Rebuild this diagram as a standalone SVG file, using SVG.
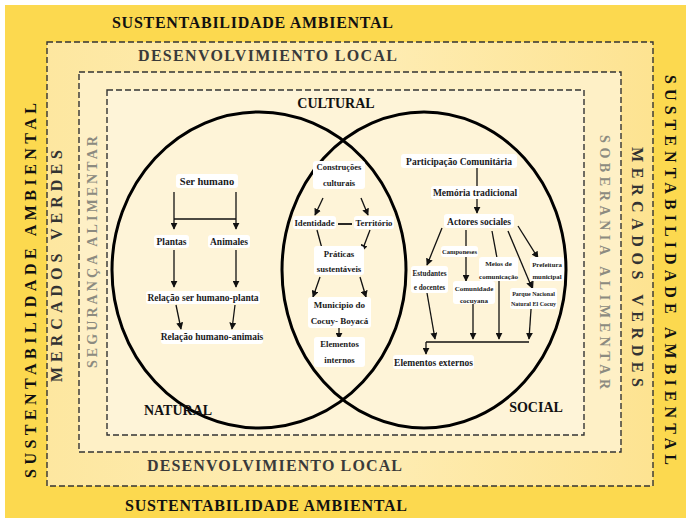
<svg xmlns="http://www.w3.org/2000/svg" width="686" height="518" viewBox="0 0 686 518">
<defs>
<linearGradient id="gOuter" x1="0" y1="0" x2="1" y2="0">
<stop offset="0" stop-color="#FDE7A0"/>
<stop offset="0.5" stop-color="#FEEDB6"/>
<stop offset="1" stop-color="#FDE391"/>
</linearGradient>
<marker id="ah" viewBox="0 0 10 10" refX="9" refY="5" markerWidth="7" markerHeight="7" markerUnits="userSpaceOnUse" orient="auto"><path d="M0,0 L10,5 L0,10 z" fill="#111"/></marker>
<marker id="tee" viewBox="0 0 10 10" refX="9" refY="5" markerWidth="7" markerHeight="7" markerUnits="userSpaceOnUse" orient="auto"><path d="M9,0 V10" stroke="#111" stroke-width="2"/></marker>
</defs>
<style>
.f{font-family:"Liberation Serif","Times New Roman",serif;font-weight:bold;text-anchor:middle}
.band{font-size:16px;fill:#111}
.dev{font-size:16px;fill:#3a3a3a}
.mv{font-size:16px;fill:#333}
.sa{font-size:14px;fill:#8c8b80}
.big{font-size:14px;fill:#111}
.n{fill:#1a1a1a}
.box{fill:#fff;rx:3px}
.dash{stroke:#333;stroke-width:1.4;stroke-dasharray:6 3}
.ln{stroke:#111;stroke-width:1.3;fill:none}
.ar{stroke:#111;stroke-width:1.3;fill:none;marker-end:url(#ah)}
.circ{fill:none;stroke:#000;stroke-width:3}
</style>
<rect x="0" y="0" width="686" height="518" fill="#fff"/>
<rect x="5" y="5" width="681" height="513" fill="#FCD94F"/>
<rect class="dash" x="47" y="42" width="606" height="444" fill="url(#gOuter)"/>
<rect class="dash" x="79" y="72" width="542" height="380" fill="#FEF0C6"/>
<rect class="dash" x="107" y="90" width="477" height="345" fill="#FEF4D8"/>

<g id="frame-labels">
<text class="f band" x="252.5" y="28" textLength="281" lengthAdjust="spacing">SUSTENTABILIDADE AMBIENTAL</text>
<text class="f band" x="266" y="511" textLength="282" lengthAdjust="spacing">SUSTENTABILIDADE AMBIENTAL</text>
<text class="f band" transform="translate(36,290.5) rotate(-90)" x="0" y="0" textLength="375" lengthAdjust="spacing">SUSTENTABILIDADE AMBIENTAL</text>
<text class="f band" transform="translate(665,270) rotate(90)" x="0" y="0" textLength="390" lengthAdjust="spacing">SUSTENTABILIDADE AMBIENTAL</text>
<text class="f dev" x="267.5" y="61" textLength="259" lengthAdjust="spacing">DESENVOLVIMIENTO LOCAL</text>
<text class="f dev" x="274.5" y="471" textLength="255" lengthAdjust="spacing">DESENVOLVIMIENTO LOCAL</text>
<text class="f mv" transform="translate(62,266) rotate(-90)" x="0" y="0" textLength="232" lengthAdjust="spacing">MERCADOS VERDES</text>
<text class="f mv" transform="translate(632,267) rotate(90)" x="0" y="0" textLength="240" lengthAdjust="spacing">MERCADOS VERDES</text>
<text class="f sa" transform="translate(97,252) rotate(-90)" x="0" y="0" textLength="232" lengthAdjust="spacing">SEGURANÇA ALIMENTAR</text>
<text class="f sa" transform="translate(600,262) rotate(90)" x="0" y="0" textLength="254" lengthAdjust="spacing">SOBERANIA ALIMENTAR</text>
</g>

<g id="natural-circle"><ellipse class="circ" cx="259" cy="270" rx="147" ry="158"/><text class="f big" x="178" y="415">NATURAL</text></g>
<g id="social-circle"><ellipse class="circ" cx="424" cy="270" rx="142" ry="158"/><text class="f big" x="536" y="412">SOCIAL</text></g>
<g id="cultural-label"><text class="f big" x="336" y="108">CULTURAL</text></g>

<g id="connectors">
<path class="ar" d="M174,192 V229"/>
<path class="ar" d="M236,192 V229"/>
<path class="ln" d="M174,219 H236"/>
<path class="ar" d="M174,250 V287"/>
<path class="ar" d="M236,250 V287"/>
<path class="ar" d="M176,305 L181,329"/>
<path class="ar" d="M235,305 L232,329"/>
<path class="ar" d="M323,198 L315,215"/>
<path class="ar" d="M361,198 L368,215"/>
<path class="ln" d="M338,224 H352" style="stroke-width:1.8"/>
<path class="ln" d="M317,230 L324,256" style="marker-end:url(#tee)"/>
<path class="ar" d="M370,230 L362,251"/>
<path class="ar" d="M320,277 L313,297"/>
<path class="ar" d="M360,277 L366,297"/>
<path class="ar" d="M339,328 V339"/>
<path class="ln" d="M477,168 V187"/>
<path class="ar" d="M477,198 V213"/>
<path class="ar" d="M442,228 L427,265"/>
<path class="ar" d="M466,230 V281"/>
<path class="ln" d="M492,231 L497,258"/>
<path class="ar" d="M508,231 L532,288"/>
<path class="ar" d="M518,226 L538,258"/>
<path class="ar" d="M427,293 L435,339"/>
<path class="ar" d="M473,303 V339"/>
<path class="ar" d="M499,280 V339"/>
<path class="ar" d="M533,280 L529,339"/>
<path class="ln" d="M426,342 H529"/>
<path class="ar" d="M426,342 V354"/>
</g>

<g id="ser-humano"><rect class="box" x="176" y="174" width="62" height="14"/><text class="f n" x="207" y="185" font-size="10.5">Ser humano</text></g>
<g id="plantas"><rect class="box" x="154" y="235" width="35" height="13"/><text class="f n" x="171.5" y="245" font-size="9.5">Plantas</text></g>
<g id="animales"><rect class="box" x="208" y="235" width="42" height="13"/><text class="f n" x="229" y="245" font-size="9.5">Animales</text></g>
<g id="relacao-planta"><rect class="box" x="146" y="291" width="114" height="13"/><text class="f n" x="203" y="301" font-size="9.5">Relação ser humano-planta</text></g>
<g id="relacao-animais"><rect class="box" x="161" y="330" width="102" height="14"/><text class="f n" x="212" y="340" font-size="9.5">Relação humano-animais</text></g>

<g id="construcoes"><rect class="box" x="313" y="161" width="52" height="28"/><text class="f n" x="339" y="170" font-size="8.5"><tspan x="339">Construções</tspan><tspan x="339" dy="16">culturais</tspan></text></g>
<g id="identidade"><rect class="box" x="293" y="216" width="43" height="13"/><text class="f n" x="314.5" y="226" font-size="8.7">Identidade</text></g>
<g id="territorio"><rect class="box" x="354" y="216" width="40" height="13"/><text class="f n" x="374" y="226" font-size="8.7">Território</text></g>
<g id="praticas"><rect class="box" x="314" y="246" width="50" height="29"/><text class="f n" x="339" y="257" font-size="8.7"><tspan x="339">Práticas</tspan><tspan x="339" dy="15">sustentáveis</tspan></text></g>
<g id="municipio"><rect class="box" x="308" y="297" width="63" height="31"/><text class="f n" x="339.5" y="308" font-size="9"><tspan x="339.5">Municipio do</tspan><tspan x="339.5" dy="16">Cocuy- Boyacá</tspan></text></g>
<g id="elementos-internos"><rect class="box" x="314" y="337" width="51" height="30"/><text class="f n" x="339.5" y="347" font-size="8.7"><tspan x="339.5">Elementos</tspan><tspan x="339.5" dy="16">internos</tspan></text></g>

<g id="participacao"><rect class="box" x="401" y="154" width="116" height="14"/><text class="f n" x="459" y="164.5" font-size="9.5">Participação Comunitária</text></g>
<g id="memoria"><rect class="box" x="431" y="186" width="88" height="13"/><text class="f n" x="475" y="196" font-size="9.5">Memória tradicional</text></g>
<g id="actores"><rect class="box" x="444" y="214" width="70" height="14"/><text class="f n" x="479" y="225" font-size="9.5">Actores sociales</text></g>
<g id="camponeses"><rect class="box" x="441" y="246" width="37" height="11"/><text class="f n" x="459.5" y="254" font-size="6.6">Camponeses</text></g>
<g id="estudantes"><rect class="box" x="411" y="266" width="37" height="27"/><text class="f n" x="429.5" y="276" font-size="7.2"><tspan x="429.5">Estudantes</tspan><tspan x="429.5" dy="13.5">e docentes</tspan></text></g>
<g id="comunidade"><rect class="box" x="453" y="281" width="42" height="23"/><text class="f n" x="474" y="290.5" font-size="7"><tspan x="474">Comunidade</tspan><tspan x="474" dy="12">cocuyana</tspan></text></g>
<g id="meios"><rect class="box" x="479" y="257" width="39" height="24"/><text class="f n" x="498.5" y="265.5" font-size="7"><tspan x="498.5">Meios de</tspan><tspan x="498.5" dy="13">comunicação</tspan></text></g>
<g id="prefeitura"><rect class="box" x="530" y="257" width="34" height="24"/><text class="f n" x="547" y="266.5" font-size="6.8"><tspan x="547">Prefeitura</tspan><tspan x="547" dy="12">municipal</tspan></text></g>
<g id="parque"><rect class="box" x="510" y="288" width="47" height="21"/><text class="f n" x="533.5" y="296" font-size="6"><tspan x="533.5">Parque Nacional</tspan><tspan x="533.5" dy="10">Natural El Cocuy</tspan></text></g>
<g id="elementos-externos"><rect class="box" x="393" y="355" width="81" height="14"/><text class="f n" x="433.5" y="366" font-size="9.5">Elementos externos</text></g>
</svg>
